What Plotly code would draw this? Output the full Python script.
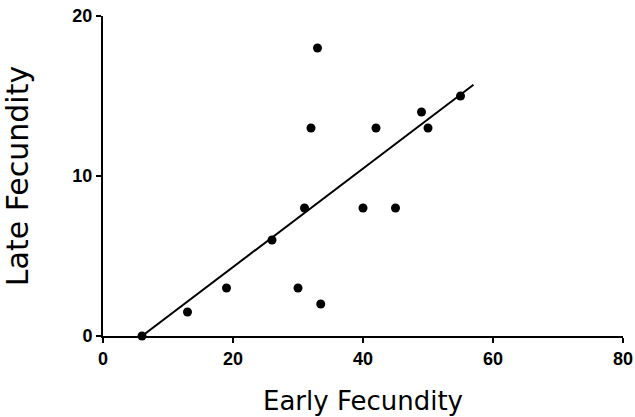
import plotly.graph_objects as go

# Early vs late fecundity observations
early_fecundity = [6, 13, 19, 26, 30, 31, 32, 33, 33.5, 40, 42, 45, 49, 50, 55]
late_fecundity = [0, 1.5, 3, 6, 3, 8, 13, 18, 2, 8, 13, 8, 14, 13, 15]

# Fitted line endpoints
fit_x = [6, 57]
fit_y = [0, 15.7]

x_ticks = [0, 20, 40, 60, 80]
y_ticks = [0, 10, 20]

fig = go.Figure()
fig.add_trace(go.Scatter(
    x=fit_x, y=fit_y, mode="lines",
    line=dict(color="black", width=2),
    hoverinfo="skip", showlegend=False,
))
fig.add_trace(go.Scatter(
    x=early_fecundity, y=late_fecundity, mode="markers",
    marker=dict(color="black", size=9),
    showlegend=False, cliponaxis=False,
))

tick_font = dict(family="Liberation Sans", size=18, color="black", weight="bold")
x_title_font = dict(family="DejaVu Sans", size=26, color="black")
y_title_font = dict(family="DejaVu Sans", size=30, color="black")

fig.update_layout(
    width=635, height=417,
    margin=dict(l=103, r=12, t=16, b=81),
    paper_bgcolor="white", plot_bgcolor="white",
    xaxis=dict(
        range=[0, 80], tickvals=x_ticks, showgrid=False, zeroline=False,
        showline=True, linecolor="black", linewidth=2, automargin=False,
        ticks="outside", ticklen=5, tickwidth=2, tickcolor="black",
        tickfont=tick_font,
        title=dict(text="Early Fecundity", font=x_title_font, standoff=24),
    ),
    yaxis=dict(
        range=[0, 20], tickvals=y_ticks, showgrid=False, zeroline=False,
        showline=True, linecolor="black", linewidth=2, automargin=False,
        ticks="outside", ticklen=5, tickwidth=2, tickcolor="black",
        tickfont=tick_font,
        title=dict(text="Late Fecundity", font=y_title_font, standoff=35),
    ),
)

fig.write_html("out.html")
